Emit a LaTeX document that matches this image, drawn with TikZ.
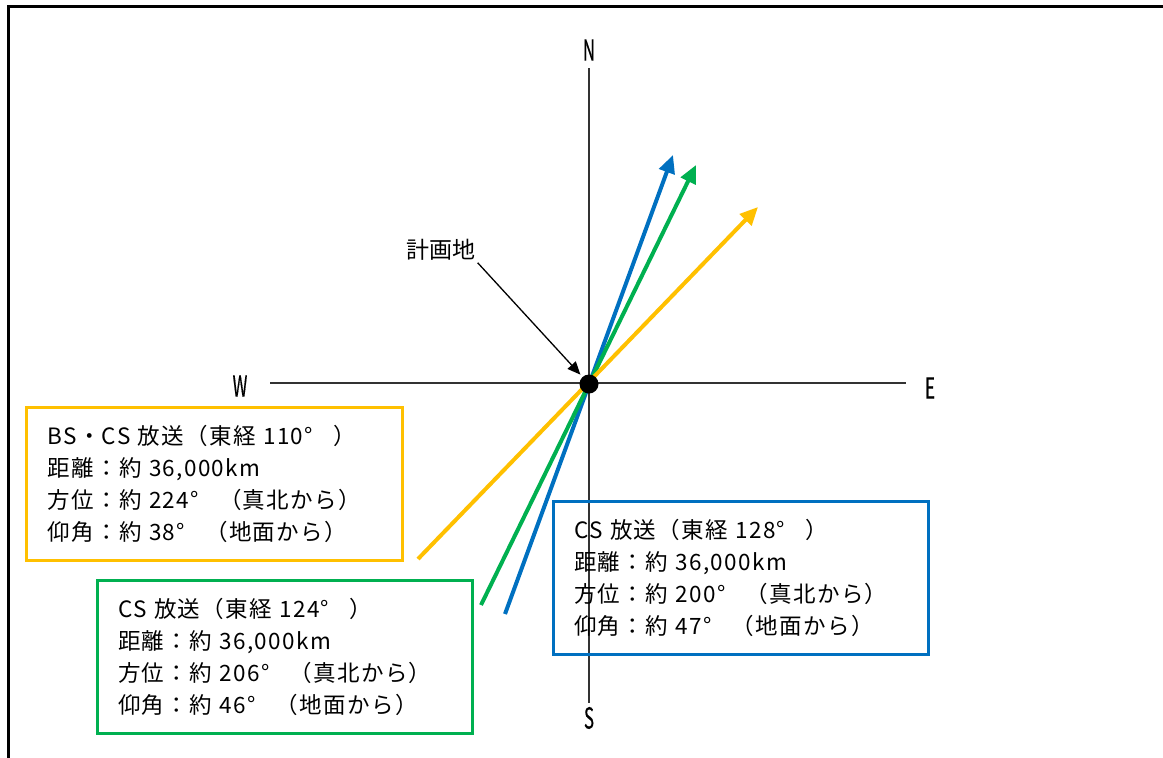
\documentclass[tikz,border=0pt]{standalone}
\usepackage{fontspec}
\setmainfont{Noto Sans CJK JP}
\usetikzlibrary{arrows.meta}
\definecolor{cblue}{HTML}{0070C0}
\definecolor{cgreen}{HTML}{00B050}
\definecolor{cyellow}{HTML}{FFC000}
\definecolor{axisgray}{HTML}{333333}
\newcommand{\narrowtxt}[1]{\scalebox{0.58}[1]{\addfontfeature{FakeBold=0.6}#1}}
\begin{document}
\begin{tikzpicture}[x=1pt,y=-1pt,
  frame/.style={line width=3pt,line cap=rect},
  axisline/.style={line width=1.4pt,draw=axisgray},
  dirlabel/.style={font=\fontsize{29}{29}\selectfont,inner sep=0pt},
  satarrow/.style={line width=4pt,-{Triangle[length=18pt,width=16pt]}},
  infobox/.style={draw,line width=3pt,anchor=north west,outer sep=0pt,
    inner xsep=21pt,inner ysep=0pt,minimum height=153pt,text width=333pt,
    align=left,font=\fontsize{22.5}{32}\selectfont\addfontfeature{LetterSpace=6}},
  pointer/.style={line width=1.3pt,-{Triangle[length=13pt,width=11pt]},shorten >=3pt}]
\useasboundingbox (0,0) rectangle (1163,758);
% outer frame (cropped)
\draw[frame] (8.5,770) -- (8.5,6.5) -- (1175,6.5);
% axes
\coordinate (wend) at (270,383);
\coordinate (eend) at (906,383);
\coordinate (nend) at (589,68);
\coordinate (send) at (589,703);
\draw[axisline] (wend) -- (eend);
\draw[axisline] (nend) -- (send);
\node[dirlabel] (N) at (589,50) {\narrowtxt{N}};
\node[dirlabel] (S) at (589,718) {\narrowtxt{S}};
\node[dirlabel] (W) at (240,386) {\narrowtxt{W}};
\node[dirlabel] (E) at (930,388) {\narrowtxt{E}};
% satellite directions
\coordinate (bstart) at (505,614);
\coordinate (btip) at (673,155);
\coordinate (gstart) at (481,605);
\coordinate (gtip) at (696,165);
\coordinate (ystart) at (418,559);
\coordinate (ytip) at (758,207);
\draw[satarrow,cblue] (bstart) -- (btip);
\draw[satarrow,cgreen] (gstart) -- (gtip);
\draw[satarrow,cyellow] (ystart) -- (ytip);
% site
\node[circle,fill=black,inner sep=0pt,minimum size=19pt] (site) at (589,384) {};
\node[font=\fontsize{23}{23}\selectfont,inner sep=2pt] (plan) at (441,250) {計画地};
\draw[pointer] (plan.south east) -- (site);
% info boxes
\node[infobox,draw=cyellow,minimum width=376pt] (bsbox) at (26,407)
  {BS・CS 放送（東経 110°\kern0.9em）\\距離：約 36,000km\\方位：約 224°\kern0.9em（真北から）\\仰角：約 38°\kern0.9em（地面から）};
\node[infobox,draw=cgreen,minimum width=375pt] (cs124box) at (97,580)
  {CS 放送（東経 124°\kern0.9em）\\距離：約 36,000km\\方位：約 206°\kern0.9em（真北から）\\仰角：約 46°\kern0.9em（地面から）};
\node[infobox,draw=cblue,minimum width=375pt] (cs128box) at (553,501)
  {CS 放送（東経 128°\kern0.9em）\\距離：約 36,000km\\方位：約 200°\kern0.9em（真北から）\\仰角：約 47°\kern0.9em（地面から）};
\end{tikzpicture}
\end{document}
